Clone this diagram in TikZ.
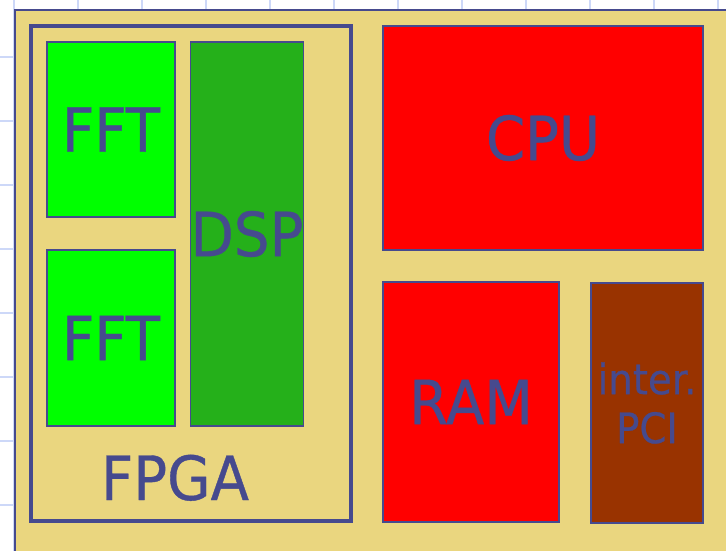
\documentclass[tikz,border=0pt]{standalone}
\usepackage{fontspec}
\setmainfont{DejaVu Sans}[FakeStretch=0.92,FakeBold=0.6]
\definecolor{ink}{HTML}{464A8E}
\definecolor{tan}{HTML}{EAD67F}
\definecolor{gridblue}{HTML}{CDD8F8}
\definecolor{fftgreen}{HTML}{00FF00}
\definecolor{dspgreen}{HTML}{25B01A}
\definecolor{cpured}{HTML}{FF0000}
\definecolor{pcibrown}{HTML}{993300}
\tikzset{
  blockbox/.style={draw=ink, line width=1.5pt, rectangle, inner sep=0pt, text=ink,
    font=\fontsize{61}{61}\selectfont},
  bigtext/.style={text=ink, inner sep=0pt, font=\fontsize{61}{61}\selectfont}
}
\begin{document}
\begin{tikzpicture}[x=1pt,y=-1pt]
\useasboundingbox (0,0) rectangle (726,551);
\fill[white] (0,0) rectangle (726,551);
% background grid
\foreach \i in {0,...,11} {
  \draw[gridblue, line width=2pt] ({14+64*\i},0) -- ({14+64*\i},551);
}
\foreach \j in {0,...,7} {
  \draw[gridblue, line width=2pt] (0,{57+64*\j}) -- (726,{57+64*\j});
}
% slide panel
\fill[tan] (15,10) rectangle (740,560);
\draw[ink, line width=2pt] (15,565) -- (15,10) -- (740,10);
% FPGA frame
\node[draw=ink, line width=4pt, rectangle, inner sep=0pt, minimum width=320pt, minimum height=495pt] (fpga) at (191,273.5) {};
\node[bigtext, anchor=base] (fpgalabel) at (175,500) {FPGA};
% blocks
\node[blockbox, fill=fftgreen, minimum width=128pt, minimum height=175pt] (fft1) at (111,129.5) {FFT};
\node[blockbox, fill=fftgreen, minimum width=128pt, minimum height=176pt] (fft2) at (111,338) {FFT};
\node[blockbox, fill=dspgreen, minimum width=112pt, minimum height=384pt] (dsp) at (247,234) {DSP};
\node[blockbox, fill=cpured, minimum width=320pt, minimum height=224pt] (cpu) at (543,138) {CPU};
\node[blockbox, fill=cpured, minimum width=176pt, minimum height=240pt] (ram) at (471,402) {RAM};
\node[blockbox, fill=pcibrown, minimum width=112pt, minimum height=240pt, align=center,
  font=\fontsize{42}{49}\selectfont] (pci) at (647,403) {inter.\\PCI};
\end{tikzpicture}
\end{document}
